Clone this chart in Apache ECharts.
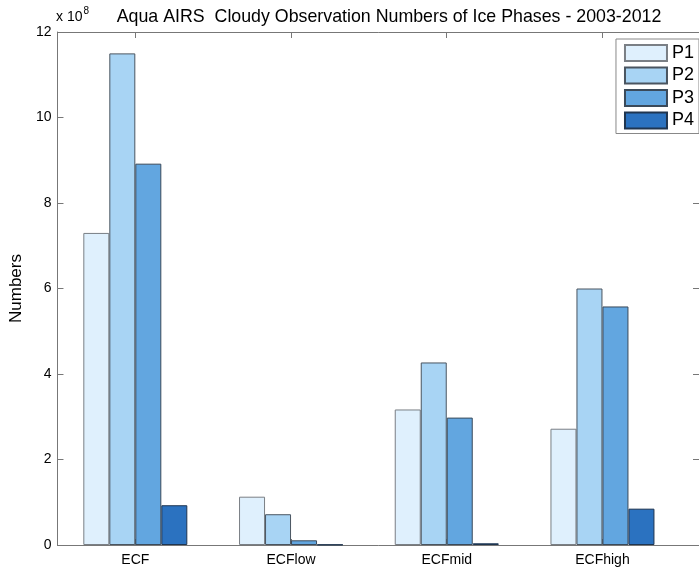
<!DOCTYPE html>
<html>
<head>
<meta charset="utf-8">
<script src="https://cdn.jsdelivr.net/npm/echarts@6/dist/echarts.min.js"></script>
<style>
  html, body { margin: 0; padding: 0; background: #fff; }
  #chart { width: 699px; height: 573px; }
</style>
</head>
<body>
<div id="chart"></div>
<script>
// Cloud-fraction categories and ice-phase observation counts (units of 1e8)
const categories = ['ECF', 'ECFlow', 'ECFmid', 'ECFhigh'];
const phaseNames = ['P1', 'P2', 'P3', 'P4'];
const p1 = [7.30, 1.13, 3.17, 2.72];
const p2 = [11.50, 0.72, 4.27, 6.00];
const p3 = [8.92, 0.11, 2.98, 5.58];
const p4 = [0.93, 0.01, 0.04, 0.85];
const yTicks = [0, 2, 4, 6, 8, 10, 12];

const phaseValues = [p1, p2, p3, p4];
const fills = ['#dff0fd', '#a8d4f4', '#62a6e0', '#2b72c0'];
const edges = ['#7a7f85', '#4a5560', '#3a4a5a', '#1f3550'];
const catPos = categories.map((c, i) => i + 1);

const chart = echarts.init(document.getElementById('chart'));
const font = 'Liberation Sans, Arial, Helvetica, sans-serif';

chart.setOption({
  animation: false,
  title: {
    text: 'Aqua AIRS  Cloudy Observation Numbers of Ice Phases - 2003-2012',
    left: 384, top: 3, textAlign: 'center',
    textStyle: { fontFamily: font, fontSize: 17.8, fontWeight: 'normal', color: '#000' }
  },
  graphic: [{
    type: 'text', left: 56, top: 6,
    style: {
      text: '{a|x 10}{b|8}',
      rich: {
        a: { fontFamily: font, fontSize: 14, fill: '#000', verticalAlign: 'bottom', lineHeight: 18 },
        b: { fontFamily: font, fontSize: 10, fill: '#000', verticalAlign: 'top', lineHeight: 18, padding: [0, 0, 9, 1] }
      }
    }
  }],
  legend: {
    data: phaseNames,
    orient: 'vertical',
    right: 0, top: 39,
    icon: 'rect',
    itemWidth: 42, itemHeight: 16, itemGap: 4.5,
    padding: [5, 5, 4, 8],
    borderColor: '#888', borderWidth: 1,
    backgroundColor: '#fff',
    textStyle: { fontFamily: font, fontSize: 18, lineHeight: 16, color: '#000', padding: [0, 0, 0, 0] }
  },
  grid: { left: 55, right: 0, top: 32, bottom: 28, containLabel: false },
  xAxis: [{
    type: 'value', min: 0.5, max: 4.62, position: 'bottom',
    splitLine: { show: false },
    axisLine: { lineStyle: { color: '#777', width: 1 } },
    axisTick: { show: true, inside: true, length: 6, lineStyle: { color: '#777' }, customValues: catPos },
    axisLabel: {
      customValues: catPos, margin: 8,
      formatter: v => categories[Math.round(v) - 1] || '',
      fontFamily: font, fontSize: 14, color: '#000'
    }
  }, {
    type: 'value', min: 0.5, max: 4.62, position: 'top',
    splitLine: { show: false },
    axisLine: { show: true, onZero: false, lineStyle: { color: '#777', width: 1 } },
    axisTick: { show: true, inside: true, length: 6, lineStyle: { color: '#777' }, customValues: catPos },
    axisLabel: { show: false }
  }],
  yAxis: [{
    type: 'value', min: 0, max: 12, interval: 2,
    name: 'Numbers', nameLocation: 'middle', nameGap: 29, nameRotate: 90,
    nameTextStyle: { fontFamily: font, fontSize: 17, color: '#000' },
    splitLine: { show: false },
    axisLine: { show: true, lineStyle: { color: '#777', width: 1 } },
    axisTick: { show: true, inside: true, length: 6, lineStyle: { color: '#777' } },
    axisLabel: {
      margin: 6, fontFamily: font, fontSize: 14, color: '#000',
      formatter: v => (yTicks.indexOf(v) >= 0 ? String(v) : '')
    }
  }, {
    type: 'value', min: 0, max: 12, interval: 2, position: 'right',
    splitLine: { show: false },
    axisLine: { show: true, lineStyle: { color: '#777', width: 1 } },
    axisTick: { show: true, inside: true, length: 6, lineStyle: { color: '#777' } },
    axisLabel: { show: false }
  }],
  series: phaseNames.map((name, k) => ({
    name: name,
    type: 'bar',
    xAxisIndex: 0, yAxisIndex: 0,
    barWidth: 26,
    barGap: '0%',
    data: phaseValues[k].map((v, i) => [catPos[i], v]),
    itemStyle: { color: fills[k], borderColor: edges[k], borderWidth: 1 }
  }))
});
</script>
</body>
</html>
